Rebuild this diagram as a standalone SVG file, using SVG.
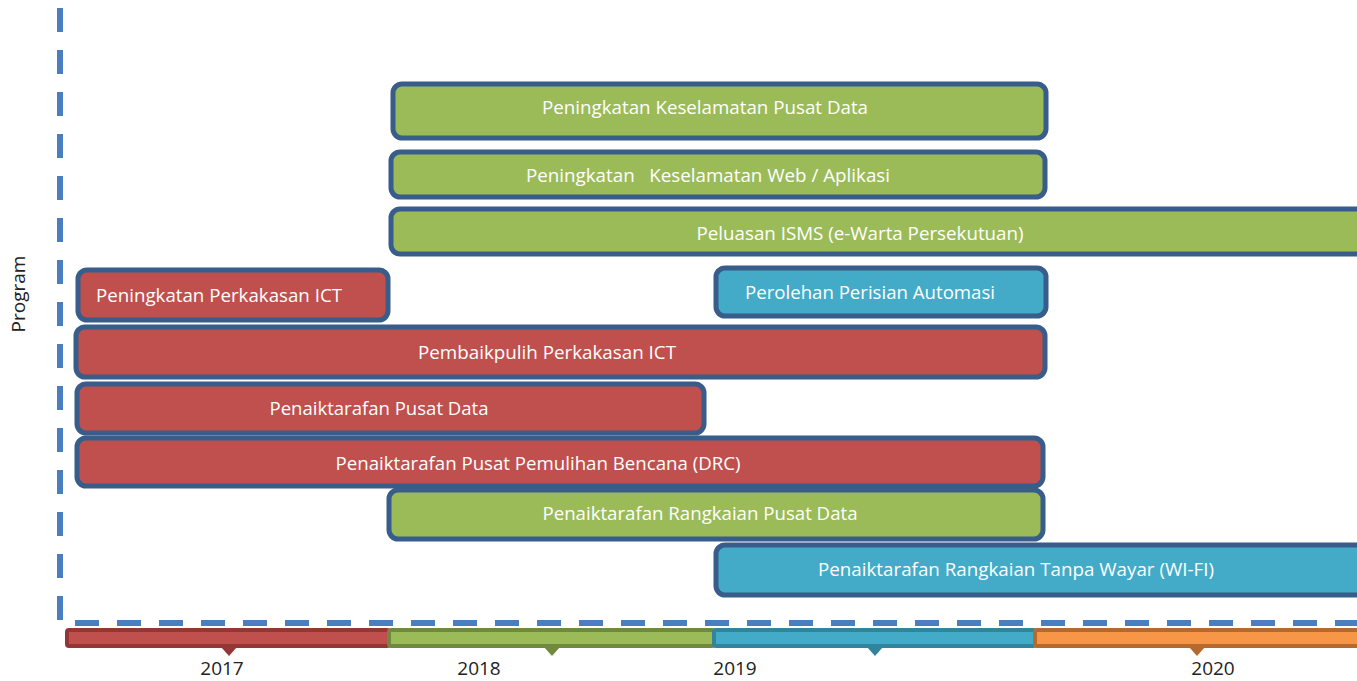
<svg xmlns="http://www.w3.org/2000/svg" width="1357" height="681" viewBox="0 0 1357 681">
<style>
.bar{stroke:#385D8A;stroke-width:5}
.g{fill:#9BBB59}.r{fill:#C0504D}.b{fill:#43ABC7}
.t{font-family:"Open Sans","Liberation Sans",sans-serif;font-size:18.5px;fill:#ffffff;white-space:pre}
.y{font-family:"Open Sans","Liberation Sans",sans-serif;font-size:19px;fill:#222222;text-anchor:middle}
.axis{fill:none;stroke:#4A7EBF;stroke-width:6;stroke-dasharray:24 18}
</style>
<rect width="1357" height="681" fill="#ffffff"/>
<g id="axes">
<path class="axis" d="M60 8 V623 H1357"/>
</g>
<text x="25" y="294" class="y" transform="rotate(-90 25 294)">Program</text>
<g id="timeline">
<rect x="67" y="630" width="322" height="16" rx="2" fill="#C0504D" stroke="#943634" stroke-width="4"/>
<path d="M221 647 L229 656 L237 647 Z" fill="#943634"/>
<rect x="389" y="630" width="325" height="16" rx="2" fill="#9BBB59" stroke="#71893F" stroke-width="4"/>
<path d="M544 647 L552 656 L560 647 Z" fill="#71893F"/>
<rect x="714" y="630" width="321" height="16" rx="2" fill="#43ABC7" stroke="#31849B" stroke-width="4"/>
<path d="M867 647 L875 656 L883 647 Z" fill="#31849B"/>
<rect x="1035" y="630" width="330" height="16" rx="2" fill="#F79646" stroke="#B6692E" stroke-width="4"/>
<path d="M1189 647 L1197 656 L1205 647 Z" fill="#B6692E"/>
<text x="222" y="675" class="y">2017</text>
<text x="479" y="675" class="y">2018</text>
<text x="735" y="675" class="y">2019</text>
<text x="1213" y="675" class="y">2020</text>
</g>
<g id="n1"><rect class="bar g" x="393" y="84" width="653" height="54" rx="9"/><text class="t" x="705" y="114" text-anchor="middle" textLength="326" lengthAdjust="spacingAndGlyphs">Peningkatan Keselamatan Pusat Data</text></g>
<g id="n2"><rect class="bar g" x="391" y="152" width="654" height="45" rx="9"/><text class="t" x="708" y="182" text-anchor="middle" textLength="364" lengthAdjust="spacingAndGlyphs">Peningkatan   Keselamatan Web / Aplikasi</text></g>
<g id="n3"><rect class="bar g" x="391" y="209" width="990" height="45" rx="9"/><text class="t" x="860" y="240" text-anchor="middle" textLength="327" lengthAdjust="spacingAndGlyphs">Peluasan ISMS (e-Warta Persekutuan)</text></g>
<g id="n4"><rect class="bar r" x="78" y="270" width="310" height="50" rx="9"/><text class="t" x="96" y="302" textLength="246" lengthAdjust="spacingAndGlyphs">Peningkatan Perkakasan ICT</text></g>
<g id="n5"><rect class="bar b" x="716" y="268" width="330" height="48" rx="9"/><text class="t" x="745" y="299" textLength="250" lengthAdjust="spacingAndGlyphs">Perolehan Perisian Automasi</text></g>
<g id="n6"><rect class="bar r" x="76" y="327" width="969" height="50" rx="9"/><text class="t" x="547" y="359" text-anchor="middle" textLength="258" lengthAdjust="spacingAndGlyphs">Pembaikpulih Perkakasan ICT</text></g>
<g id="n7"><rect class="bar r" x="77" y="384" width="627" height="49" rx="9"/><text class="t" x="379" y="415" text-anchor="middle" textLength="219" lengthAdjust="spacingAndGlyphs">Penaiktarafan Pusat Data</text></g>
<g id="n8"><rect class="bar r" x="77" y="438" width="966" height="48" rx="9"/><text class="t" x="538" y="470" text-anchor="middle" textLength="405" lengthAdjust="spacingAndGlyphs">Penaiktarafan Pusat Pemulihan Bencana (DRC)</text></g>
<g id="n9"><rect class="bar g" x="389" y="490" width="654" height="49" rx="9"/><text class="t" x="700" y="520" text-anchor="middle" textLength="315" lengthAdjust="spacingAndGlyphs">Penaiktarafan Rangkaian Pusat Data</text></g>
<g id="n10"><rect class="bar b" x="716" y="545" width="665" height="50" rx="9"/><text class="t" x="1016" y="576" text-anchor="middle" textLength="396" lengthAdjust="spacingAndGlyphs">Penaiktarafan Rangkaian Tanpa Wayar (WI-FI)</text></g>
<g id="connectors"></g>
</svg>
